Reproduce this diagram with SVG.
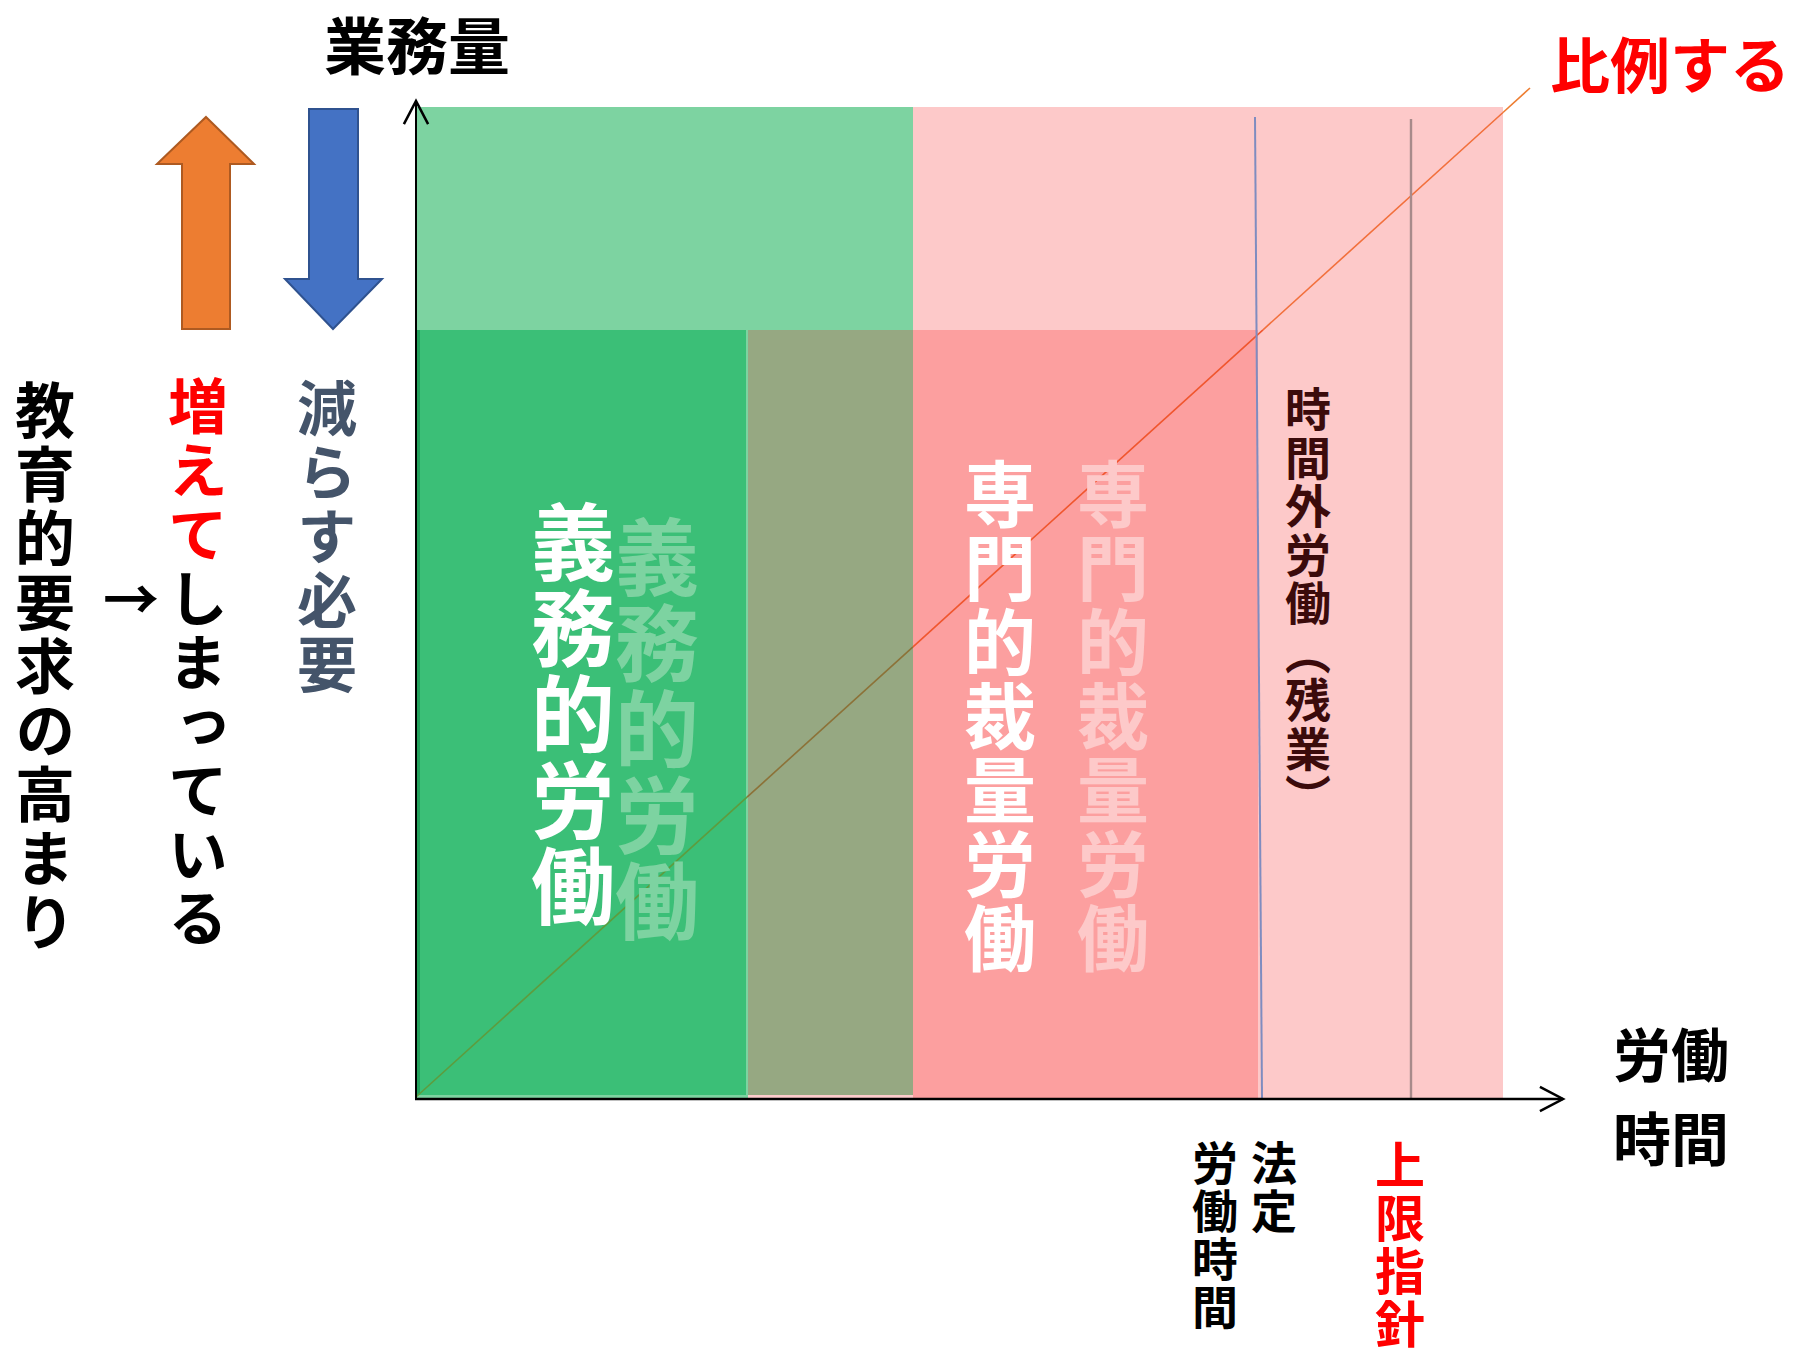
<svg xmlns="http://www.w3.org/2000/svg" width="1799" height="1354" viewBox="0 0 1799 1354">
<defs>
<style>
.t{font-family:"Noto Sans CJK JP","Noto Sans CJK SC",sans-serif;font-weight:700}
.v{writing-mode:vertical-rl}
.blk{fill:#000}
.red{fill:#FF0000}
.wht{fill:#FFFFFF}
</style>
<marker id="open" markerUnits="userSpaceOnUse" markerWidth="30" markerHeight="30" viewBox="-22 -12 26 24" refX="0" refY="0" orient="auto">
<path d="M-20,-10.5 L0,0 L-20,10.5" fill="none" stroke="#000" stroke-width="2.2"/>
</marker>
</defs>
<rect width="1799" height="1354" fill="#FFFFFF"/>

<g id="areas">
<rect x="416" y="107" width="497" height="223" fill="#7DD3A1"/>
<rect x="416" y="330" width="332" height="768" fill="#7DD3A1"/>
<rect x="748" y="330" width="165" height="768" fill="#FDCCCC"/>
<rect x="913" y="107" width="590" height="991" fill="#FDC9C9"/>
<rect x="416" y="330" width="330" height="765" fill="#3BBF77"/>
<rect x="416" y="330" width="4" height="765" fill="#22A15C"/>
<rect x="748" y="330" width="165" height="765" fill="#96A882"/>
<rect x="913" y="330" width="345" height="768" fill="#FC9F9F"/>
</g>

<g id="trend-line" fill="none" stroke-width="1.6">
<line x1="416" y1="1097" x2="747" y2="797.2" stroke="#5E9C3E"/>
<line x1="747" y1="797.2" x2="913" y2="646.8" stroke="#8C7238"/>
<line x1="913" y1="646.8" x2="1263" y2="329.8" stroke="#F0562E"/>
<line x1="1263" y1="329.8" x2="1503" y2="112.5" stroke="#F2703C"/>
<line x1="1503" y1="112.5" x2="1530" y2="88" stroke="#ED7D31"/>
</g>

<g id="limit-lines">
<line x1="1255" y1="117" x2="1262" y2="1099" stroke="#7F8CC0" stroke-width="2"/>
<line x1="1411" y1="119" x2="1411" y2="1099" stroke="#A88A8A" stroke-width="2.4"/>
</g>

<g id="connectors" fill="none" stroke="#000">
<line x1="416" y1="1099" x2="416" y2="101" stroke-width="2" marker-end="url(#open)"/>
<line x1="415" y1="1099" x2="1563" y2="1099" stroke-width="2.6" marker-end="url(#open)"/>
</g>

<g id="arrow-up">
<polygon points="206,117 254,164 230,164 230,329 182,329 182,164 157,164" fill="#ED7D31" stroke="#AE5A21" stroke-width="2"/>
</g>
<g id="arrow-down">
<polygon points="309,109 358,109 358,279 382,279 333,329 285,279 309,279" fill="#4472C4" stroke="#2F528F" stroke-width="2"/>
</g>

<g id="label-y-axis"><text class="t blk" x="324" y="70" font-size="62">業務量</text></g>
<g id="label-proportional"><text class="t red" x="1550" y="88" font-size="60">比例する</text></g>
<g id="label-x-axis">
<text class="t blk" font-size="58"><tspan x="1613" y="1077">労働</tspan><tspan x="1613" y="1161">時間</tspan></text>
</g>

<g id="label-demand"><text class="t v blk" x="45" y="380" font-size="60" letter-spacing="4">教育的要求の高まり</text></g>
<g id="label-arrow"><text class="t blk" x="103" y="620" font-size="56">→</text></g>
<g id="label-increase"><text class="t v blk" x="198" y="376" font-size="60" letter-spacing="4"><tspan class="red">増えて</tspan>しまっている</text></g>
<g id="label-reduce"><text class="t v" x="327" y="378" font-size="60" letter-spacing="4" fill="#44546A">減らす必要</text></g>

<g id="node-obligatory">
<text class="t v" x="657" y="515" font-size="84" letter-spacing="2" fill="#7DD3A1">義務的労働</text>
<text class="t v wht" x="573" y="500" font-size="84" letter-spacing="2">義務的労働</text>
</g>
<g id="node-discretionary">
<text class="t v" x="1113" y="458" font-size="72" letter-spacing="2" fill="#FDC9C9">専門的裁量労働</text>
<text class="t v wht" x="1000" y="458" font-size="72" letter-spacing="2">専門的裁量労働</text>
</g>
<g id="node-overtime">
<text class="t v" x="1308" y="386" font-size="46" letter-spacing="2.5" fill="#3B0B0B">時間外労働（残業）</text>
</g>
<g id="label-legal-hours">
<text class="t v blk" x="1274" y="1140" font-size="46" letter-spacing="2">法定</text>
<text class="t v blk" x="1215" y="1140" font-size="46" letter-spacing="2">労働時間</text>
</g>
<g id="label-upper-limit">
<text class="t v red" x="1400" y="1140" font-size="50" letter-spacing="3">上限指針</text>
</g>
</svg>
